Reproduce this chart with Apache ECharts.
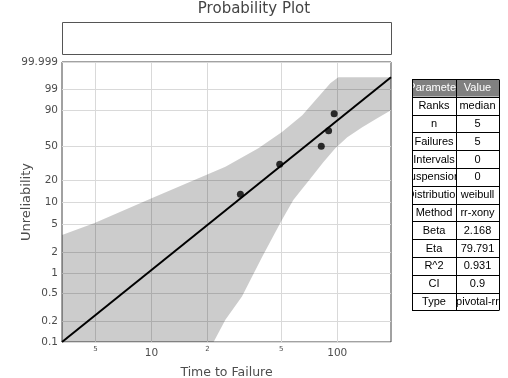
<!DOCTYPE html>
<html><head><meta charset="utf-8">
<script src="https://cdn.jsdelivr.net/npm/echarts@6/dist/echarts.min.js"></script>
<style>html,body{margin:0;padding:0;background:#fff}#c{width:508px;height:378px}</style>
</head><body><div id="c"></div>
<script>
// ---- data ----
const failureTimes = [30.1, 49.0, 82.0, 89.8, 96.2];
const medianRanks = [12.96, 31.48, 50.0, 68.52, 87.04];           // unreliability %
const fitLineTimes = [3.3, 194.6];
const fitLineUnrel = [0.1, 99.9];
const upperBoundTimes = [3.3, 4.94, 10.09, 25.0, 37.6, 50.6, 64.8, 79.0, 91.7, 101.3, 194.6];
const upperBoundUnrel = [3.51, 5.19, 11.53, 29.4, 47.7, 67.3, 85.7, 97.2, 99.65, 99.9, 99.9];
const lowerBoundTimes = [21.6, 25.0, 30.7, 39.4, 50.0, 58.0, 64.0, 70.7, 84.1, 97.6, 113.2, 136.3, 164.1, 194.6];
const lowerBoundUnrel = [0.1, 0.21, 0.456, 1.70, 5.54, 10.84, 14.79, 20.0, 33.4, 47.7, 60.8, 72.9, 82.8, 90.0];
const yTickValues = [0.1, 0.2, 0.5, 1, 2, 5, 10, 20, 50, 90, 99, 99.999];
const yTickLabels = ['0.1', '0.2', '0.5', '1', '2', '5', '10', '20', '50', '90', '99', '99.999'];
const xTickValues = [5, 10, 20, 50, 100];
const xTickLabels = ['5', '10', '2', '5', '100'];
const xAxisRange = [3.3, 194.6];
const yAxisRange = [0.1, 99.999];
const tableHeader = ['Parameter', 'Value'];
const tableParams = ['Ranks', 'n', 'Failures', 'Intervals', 'Suspensions', 'Distribution', 'Method', 'Beta', 'Eta', 'R^2', 'CI', 'Type'];
const tableValues = ['median', '5', '5', '0', '0', 'weibull', 'rr-xony', '2.168', '79.791', '0.931', '0.9', 'pivotal-rr'];

// ---- Weibull probability-paper transforms ----
const tx = x => Math.log10(x);
const tf = f => Math.log(-Math.log(1 - f / 100));
const nearestIdx = (arr, v) => { let b = 0, d = Infinity; arr.forEach((a, i) => { const e = Math.abs(a - v); if (e < d) { d = e; b = i; } }); return b; };

const yT = yTickValues.map(tf);
const xT = xTickValues.map(tx);

const bandPts = [];
upperBoundTimes.forEach((x, i) => bandPts.push([tx(x), tf(upperBoundUnrel[i])]));
for (let i = lowerBoundTimes.length - 1; i >= 0; i--) bandPts.push([tx(lowerBoundTimes[i]), tf(lowerBoundUnrel[i])]);
bandPts.push([tx(xAxisRange[0]), tf(yAxisRange[0])]);

const axisFont = 'DejaVu Sans';
const labelColor = '#4d4d4d';

// ---- table graphics ----
const g = [];
const L = 412, M = 456, R = 499, T = 79, H = 17.8;
const rows = [tableHeader].concat(tableParams.map((p, i) => [p, tableValues[i]]));
const tfont = '11px "Liberation Sans", Arial, sans-serif';
[[L, M, 0, 10], [M, R, 1, 12]].forEach(([a, b, col, z]) => {
  rows.forEach((r, i) => {
    const y = T + i * H, hdr = i === 0;
    g.push({ type: 'rect', z: z, shape: { x: a, y: y, width: b - a, height: H }, style: { fill: hdr ? '#808080' : '#fff' } });
    g.push({ type: 'text', z: z + 1, x: (a + b) / 2, y: y + H / 2 + 0.5,
      style: { text: r[col], fill: hdr ? '#fff' : '#000', font: tfont, textAlign: 'center', textVerticalAlign: 'middle' } });
  });
});
const tabH = rows.length * H;
g.push({ type: 'rect', z: 14, shape: { x: 393, y: T - 1, width: L - 393, height: tabH + 2 }, style: { fill: '#fff' } });
g.push({ type: 'rect', z: 14, shape: { x: R, y: T - 1, width: 12, height: tabH + 2 }, style: { fill: '#fff' } });
for (let i = 0; i <= rows.length; i++) {
  const y = Math.round(T + i * H) + 0.5;
  g.push({ type: 'line', z: 15, shape: { x1: L, y1: y, x2: R, y2: y }, style: { stroke: '#000', lineWidth: 1 } });
}
[L, M, R].forEach(x => g.push({ type: 'line', z: 15, shape: { x1: x + 0.5, y1: T + 0.5, x2: x + 0.5, y2: Math.round(T + tabH) + 0.5 }, style: { stroke: '#000', lineWidth: 1 } }));
// empty legend box
g.push({ type: 'rect', z: 5, shape: { x: 62.5, y: 22.5, width: 329, height: 32 }, style: { fill: 'none', stroke: '#555', lineWidth: 1 } });

const chart = echarts.init(document.getElementById('c'), null, { renderer: 'canvas' });
chart.setOption({
  animation: false,
  backgroundColor: '#fff',
  title: { text: 'Probability Plot', left: 'center', top: -3,
    textStyle: { fontFamily: axisFont, fontSize: 15, fontWeight: 'normal', color: '#444' } },
  grid: { left: 62, top: 62, width: 329, height: 280, show: true, borderColor: '#444', borderWidth: 1,
    containLabel: false, outerBoundsMode: 'none' },
  xAxis: {
    type: 'value', min: tx(xAxisRange[0]), max: tx(xAxisRange[1]),
    name: 'Time to Failure', nameLocation: 'middle', nameGap: 24, nameMoveOverlap: false,
    nameTextStyle: { fontFamily: axisFont, fontSize: 12.5, color: labelColor },
    axisLine: { show: false }, axisTick: { show: false, customValues: xT },
    splitLine: { show: true, lineStyle: { color: '#d9d9d9', width: 1 } },
    axisLabel: {
      customValues: xT, margin: 3, showMinLabel: true, showMaxLabel: true,
      formatter: v => {
        const i = nearestIdx(xT, v);
        const major = Math.abs(xT[i] - Math.round(xT[i])) < 1e-9;
        return major ? '{M|' + xTickLabels[i] + '}' : '{m|' + xTickLabels[i] + '}';
      },
      rich: {
        M: { fontFamily: axisFont, fontSize: 10.5, color: labelColor, lineHeight: 16 },
        m: { fontFamily: axisFont, fontSize: 7, color: labelColor, lineHeight: 9 }
      }
    }
  },
  yAxis: {
    type: 'value', min: tf(yAxisRange[0]), max: tf(yAxisRange[1]),
    name: 'Unreliability', nameLocation: 'middle', nameGap: 29, nameMoveOverlap: false,
    nameTextStyle: { fontFamily: axisFont, fontSize: 13, color: labelColor },
    axisLine: { show: false }, axisTick: { show: false, customValues: yT },
    splitLine: { show: true, lineStyle: { color: '#d9d9d9', width: 1 } },
    axisLabel: {
      customValues: yT, margin: 4, showMinLabel: true, showMaxLabel: true,
      fontFamily: axisFont, fontSize: 10.5, color: labelColor,
      formatter: v => yTickLabels[nearestIdx(yT, v)]
    }
  },
  graphic: g,
  series: [
    {
      type: 'custom', z: 1, silent: true, clip: true,
      data: [[bandPts[0][0], bandPts[0][1]]],
      renderItem: (params, api) => ({
        type: 'polygon',
        shape: { points: bandPts.map(p => api.coord(p)) },
        style: { fill: 'rgba(0,0,0,0.2)' }
      })
    },
    {
      type: 'line', z: 3, showSymbol: false, silent: true,
      data: fitLineTimes.map((x, i) => [tx(x), tf(fitLineUnrel[i])]),
      lineStyle: { color: '#000', width: 2 }
    },
    {
      type: 'scatter', z: 4, symbol: 'circle', symbolSize: 7,
      itemStyle: { color: '#000' },
      data: failureTimes.map((x, i) => [tx(x), tf(medianRanks[i])])
    }
  ]
});
</script>
</body></html>
